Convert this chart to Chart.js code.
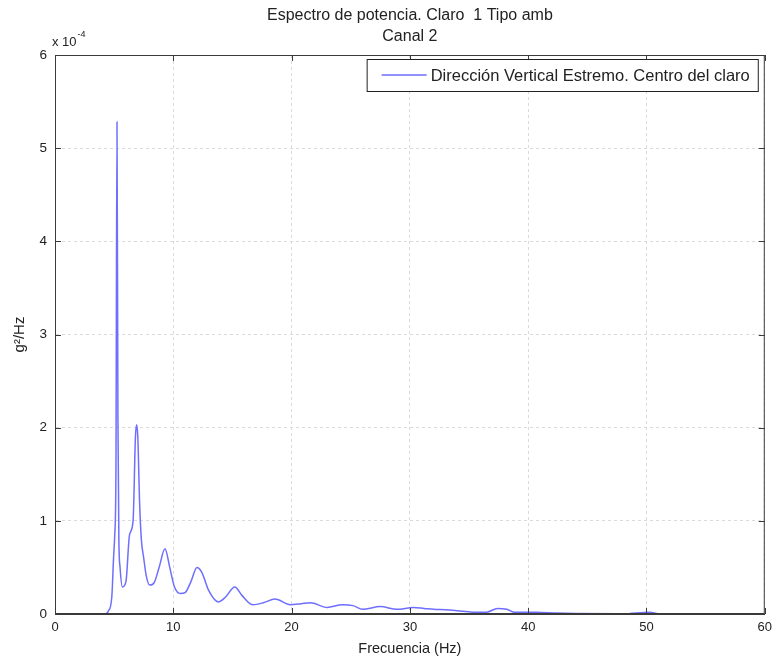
<!DOCTYPE html>
<html>
<head>
<meta charset="utf-8">
<title>Espectro de potencia</title>
<script src="https://cdn.jsdelivr.net/npm/chart.js@4.4.1/dist/chart.umd.min.js"></script>
<style>
  html, body { margin: 0; padding: 0; background: #ffffff; }
  #wrap { width: 778px; height: 664px; }
</style>
</head>
<body>
<div id="wrap"><canvas id="chart" width="778" height="664"></canvas></div>
<script>
// Frequency (Hz)
const frequency = [0, 4.2, 4.5, 4.8, 4.95, 5.05, 5.15, 5.24, 5.32, 5.4, 5.5, 5.7, 6.0, 6.3, 6.6, 6.8, 6.9, 7.0, 7.15, 7.3, 7.5, 7.7, 8.0, 8.4, 8.8, 9.3, 9.7, 10.1, 10.6, 11.0, 11.5, 12.0, 12.4, 13.0, 13.8, 14.4, 15.2, 15.8, 16.7, 17.6, 18.6, 19.9, 20.8, 21.6, 23.0, 24.3, 25.2, 26.0, 27.5, 28.9, 30.3, 31.2, 32.0, 33.0, 34.0, 35.3, 36.5, 37.4, 38.2, 38.8, 40.7, 42.4, 44.0, 48.0, 50.3, 51.0, 60];
// Power spectral density, in units of 1e-4 g^2/Hz
const psd = [0, 0, 0.03, 0.18, 0.6, 0.85, 1.5, 5.28, 2.1, 0.8, 0.5, 0.29, 0.35, 0.85, 1.0, 1.9, 2.03, 1.9, 1.2, 0.8, 0.6, 0.42, 0.31, 0.34, 0.5, 0.70, 0.5, 0.29, 0.22, 0.23, 0.35, 0.50, 0.45, 0.25, 0.13, 0.18, 0.29, 0.2, 0.10, 0.12, 0.16, 0.10, 0.11, 0.12, 0.07, 0.10, 0.09, 0.05, 0.08, 0.05, 0.07, 0.06, 0.05, 0.045, 0.035, 0.02, 0.02, 0.06, 0.05, 0.02, 0.02, 0.01, 0.005, 0.002, 0.02, 0.002, 0];
const seriesLabel = "Dirección Vertical Estremo. Centro del claro";
const titleLines = ["Espectro de potencia. Claro  1 Tipo amb", "Canal 2"];
const xTicks = [0, 10, 20, 30, 40, 50, 60];
const yTicks = [0, 1, 2, 3, 4, 5, 6];

const FONT = "'Liberation Sans', Arial, Helvetica, sans-serif";
const lineColor = "rgb(110,110,255)";

// Draws the box, inner ticks, the exponent and the legend like matlab does
const matlabBits = {
  id: "matlabBits",
  beforeDraw(chart) {
    const ctx = chart.ctx;
    ctx.save();
    ctx.fillStyle = "#ffffff";
    ctx.fillRect(0, 0, chart.width, chart.height);
    ctx.restore();
  },
  afterDatasetsDraw(chart) {
    const ctx = chart.ctx;
    const a = chart.chartArea;
    const xs = chart.scales.x, ys = chart.scales.y;
    ctx.save();
    ctx.strokeStyle = "#3a3a3a";
    ctx.lineWidth = 1;
    ctx.strokeRect(a.left + 0.5, a.top + 0.5, a.right - a.left - 1, a.bottom - a.top - 1);
    ctx.beginPath();
    xTicks.forEach(v => {
      const px = Math.round(xs.getPixelForValue(v)) + 0.5;
      ctx.moveTo(px, a.bottom); ctx.lineTo(px, a.bottom - 6);
      ctx.moveTo(px, a.top); ctx.lineTo(px, a.top + 6);
    });
    yTicks.forEach(v => {
      const py = Math.round(ys.getPixelForValue(v)) + 0.5;
      ctx.moveTo(a.left, py); ctx.lineTo(a.left + 6, py);
      ctx.moveTo(a.right, py); ctx.lineTo(a.right - 6, py);
    });
    ctx.stroke();

    // exponent above the y axis
    ctx.fillStyle = "#222";
    ctx.font = "13px " + FONT;
    ctx.textBaseline = "alphabetic";
    ctx.textAlign = "left";
    ctx.fillText("x 10", a.left - 3, a.top - 9);
    const w = ctx.measureText("x 10").width;
    ctx.font = "9px " + FONT;
    ctx.fillText("-4", a.left - 3 + w + 1, a.top - 18);

    // legend box in the top right corner
    ctx.font = "16.5px " + FONT;
    const tw = ctx.measureText(seriesLabel).width;
    const bw = tw + 72, bh = 32;
    const bx = a.right - 7 - bw, by = a.top + 4;
    ctx.fillStyle = "#ffffff";
    ctx.fillRect(bx, by, bw, bh);
    ctx.strokeStyle = "#222";
    ctx.strokeRect(bx + 0.5, by + 0.5, bw, bh);
    ctx.strokeStyle = lineColor;
    ctx.lineWidth = 1.5;
    ctx.beginPath();
    ctx.moveTo(bx + 15, by + bh / 2);
    ctx.lineTo(bx + 60, by + bh / 2);
    ctx.stroke();
    ctx.fillStyle = "#222";
    ctx.textBaseline = "middle";
    ctx.fillText(seriesLabel, bx + 64, by + bh / 2 + 1);
    ctx.restore();
  }
};

const points = frequency.map((f, i) => ({ x: f, y: psd[i] }));

new Chart(document.getElementById("chart").getContext("2d"), {
  type: "line",
  data: {
    datasets: [{
      label: seriesLabel,
      data: points,
      borderColor: lineColor,
      borderWidth: 1.5,
      pointRadius: 0,
      fill: false,
      cubicInterpolationMode: "monotone"
    }]
  },
  options: {
    responsive: false,
    animation: false,
    layout: { padding: { top: 0, right: 13, left: 0, bottom: 0 } },
    plugins: {
      legend: { display: false },
      tooltip: { enabled: false },
      title: {
        display: true,
        fullSize: false,
        text: titleLines,
        color: "#222",
        font: { family: FONT, size: 16, weight: "normal", lineHeight: "21px" },
        padding: { top: 5, bottom: 8 }
      }
    },
    scales: {
      x: {
        type: "linear",
        min: 0,
        max: 60,
        afterFit: s => { s.height = 50; },
        afterBuildTicks: s => { s.ticks = xTicks.map(v => ({ value: v })); },
        ticks: { color: "#222", padding: 6, font: { family: FONT, size: 13 } },
        grid: { color: "#dadada", drawTicks: false },
        border: { display: true, color: "#3a3a3a", dash: [3, 3] },
        title: { display: true, text: "Frecuencia (Hz)", color: "#222", font: { family: FONT, size: 14.5 }, padding: { top: 0, bottom: 6 } }
      },
      y: {
        min: 0,
        max: 6,
        afterFit: s => { s.width = 55; },
        afterBuildTicks: s => { s.ticks = yTicks.map(v => ({ value: v })); },
        ticks: { color: "#222", padding: 8, font: { family: FONT, size: 13.5 } },
        grid: { color: "#dadada", drawTicks: false },
        border: { display: true, color: "#3a3a3a", dash: [3, 3] },
        title: { display: true, text: "g²/Hz", color: "#222", font: { family: FONT, size: 15 }, padding: { top: 11, bottom: 0 } }
      }
    }
  },
  plugins: [matlabBits]
});
</script>
</body>
</html>
